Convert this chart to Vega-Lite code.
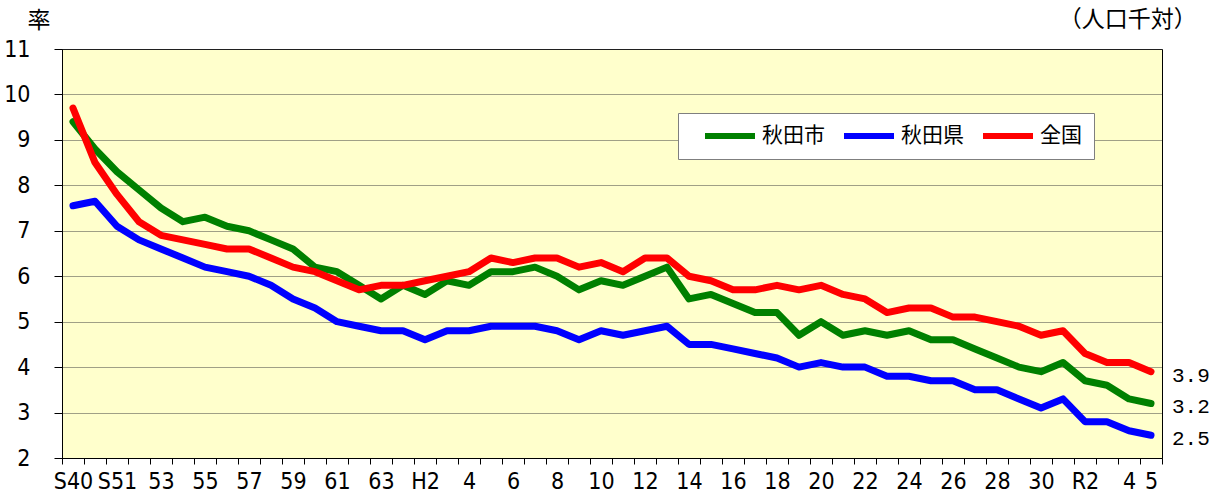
{
  "$schema": "https://vega.github.io/schema/vega-lite/v6.json",
  "width": 1100,
  "height": 409,
  "autosize": "none",
  "padding": {"left": 62, "top": 49, "right": 53, "bottom": 36},
  "background": "#FFFFFF",
  "title": {
    "text": "（人口千対）",
    "anchor": "end",
    "dx": -13,
    "offset": -23,
    "font": "Noto Sans CJK JP",
    "fontSize": 23,
    "fontWeight": "normal",
    "color": "#000000"
  },
  "data": {
    "values": [
      {"code": "S40", "秋田市": 9.4, "秋田県": 7.55, "全国": 9.7},
      {"code": "S50", "秋田市": 8.8, "秋田県": 7.65, "全国": 8.5},
      {"code": "S51", "秋田市": 8.3, "秋田県": 7.1, "全国": 7.8},
      {"code": "S52", "秋田市": 7.9, "秋田県": 6.8, "全国": 7.2},
      {"code": "S53", "秋田市": 7.5, "秋田県": 6.6, "全国": 6.9},
      {"code": "S54", "秋田市": 7.2, "秋田県": 6.4, "全国": 6.8},
      {"code": "S55", "秋田市": 7.3, "秋田県": 6.2, "全国": 6.7},
      {"code": "S56", "秋田市": 7.1, "秋田県": 6.1, "全国": 6.6},
      {"code": "S57", "秋田市": 7.0, "秋田県": 6.0, "全国": 6.6},
      {"code": "S58", "秋田市": 6.8, "秋田県": 5.8, "全国": 6.4},
      {"code": "S59", "秋田市": 6.6, "秋田県": 5.5, "全国": 6.2},
      {"code": "S60", "秋田市": 6.2, "秋田県": 5.3, "全国": 6.1},
      {"code": "S61", "秋田市": 6.1, "秋田県": 5.0, "全国": 5.9},
      {"code": "S62", "秋田市": 5.8, "秋田県": 4.9, "全国": 5.7},
      {"code": "S63", "秋田市": 5.5, "秋田県": 4.8, "全国": 5.8},
      {"code": "H1", "秋田市": 5.8, "秋田県": 4.8, "全国": 5.8},
      {"code": "H2", "秋田市": 5.6, "秋田県": 4.6, "全国": 5.9},
      {"code": "H3", "秋田市": 5.9, "秋田県": 4.8, "全国": 6.0},
      {"code": "H4", "秋田市": 5.8, "秋田県": 4.8, "全国": 6.1},
      {"code": "H5", "秋田市": 6.1, "秋田県": 4.9, "全国": 6.4},
      {"code": "H6", "秋田市": 6.1, "秋田県": 4.9, "全国": 6.3},
      {"code": "H7", "秋田市": 6.2, "秋田県": 4.9, "全国": 6.4},
      {"code": "H8", "秋田市": 6.0, "秋田県": 4.8, "全国": 6.4},
      {"code": "H9", "秋田市": 5.7, "秋田県": 4.6, "全国": 6.2},
      {"code": "H10", "秋田市": 5.9, "秋田県": 4.8, "全国": 6.3},
      {"code": "H11", "秋田市": 5.8, "秋田県": 4.7, "全国": 6.1},
      {"code": "H12", "秋田市": 6.0, "秋田県": 4.8, "全国": 6.4},
      {"code": "H13", "秋田市": 6.2, "秋田県": 4.9, "全国": 6.4},
      {"code": "H14", "秋田市": 5.5, "秋田県": 4.5, "全国": 6.0},
      {"code": "H15", "秋田市": 5.6, "秋田県": 4.5, "全国": 5.9},
      {"code": "H16", "秋田市": 5.4, "秋田県": 4.4, "全国": 5.7},
      {"code": "H17", "秋田市": 5.2, "秋田県": 4.3, "全国": 5.7},
      {"code": "H18", "秋田市": 5.2, "秋田県": 4.2, "全国": 5.8},
      {"code": "H19", "秋田市": 4.7, "秋田県": 4.0, "全国": 5.7},
      {"code": "H20", "秋田市": 5.0, "秋田県": 4.1, "全国": 5.8},
      {"code": "H21", "秋田市": 4.7, "秋田県": 4.0, "全国": 5.6},
      {"code": "H22", "秋田市": 4.8, "秋田県": 4.0, "全国": 5.5},
      {"code": "H23", "秋田市": 4.7, "秋田県": 3.8, "全国": 5.2},
      {"code": "H24", "秋田市": 4.8, "秋田県": 3.8, "全国": 5.3},
      {"code": "H25", "秋田市": 4.6, "秋田県": 3.7, "全国": 5.3},
      {"code": "H26", "秋田市": 4.6, "秋田県": 3.7, "全国": 5.1},
      {"code": "H27", "秋田市": 4.4, "秋田県": 3.5, "全国": 5.1},
      {"code": "H28", "秋田市": 4.2, "秋田県": 3.5, "全国": 5.0},
      {"code": "H29", "秋田市": 4.0, "秋田県": 3.3, "全国": 4.9},
      {"code": "H30", "秋田市": 3.9, "秋田県": 3.1, "全国": 4.7},
      {"code": "R1", "秋田市": 4.1, "秋田県": 3.3, "全国": 4.8},
      {"code": "R2", "秋田市": 3.7, "秋田県": 2.8, "全国": 4.3},
      {"code": "R3", "秋田市": 3.6, "秋田県": 2.8, "全国": 4.1},
      {"code": "R4", "秋田市": 3.3, "秋田県": 2.6, "全国": 4.1},
      {"code": "R5", "秋田市": 3.2, "秋田県": 2.5, "全国": 3.9}
    ]
  },
  "transform": [
    {"fold": ["秋田市", "秋田県", "全国"], "as": ["series", "rate"]}
  ],
  "encoding": {
    "x": {
      "field": "code",
      "type": "ordinal",
      "sort": null,
      "scale": {"paddingInner": 0, "paddingOuter": 0},
      "axis": {
        "title": null,
        "labelAngle": 0,
        "labelOverlap": false,
        "tickBand": "extent",
        "tickSize": 6,
        "tickColor": "#000000",
        "domainColor": "#000000",
        "labelPadding": 6,
        "labelFont": "Liberation Sans Narrow, DejaVu Sans Condensed, Noto Sans CJK JP",
        "labelFontSize": 23,
        "labelColor": "#000000",
        "labelExpr": "test(/^(S40|S51|H2|R2)$/, datum.value) ? datum.value : (test(/^(S53|S55|S57|S59|S61|S63|H4|H6|H8|H10|H12|H14|H16|H18|H20|H22|H24|H26|H28|H30|R4|R5)$/, datum.value) ? substring(datum.value, 1) : '')"
      }
    },
    "y": {
      "field": "rate",
      "type": "quantitative",
      "scale": {"domain": [2, 11], "nice": false, "zero": false},
      "axis": {
        "title": "率",
        "titleAngle": 0,
        "titleX": -35,
        "titleY": -22,
        "titleAlign": "left",
        "titleBaseline": "alphabetic",
        "titleFont": "Noto Sans CJK JP",
        "titleFontSize": 23,
        "titleFontWeight": "normal",
        "titleColor": "#000000",
        "values": [2, 3, 4, 5, 6, 7, 8, 9, 10, 11],
        "grid": true,
        "gridColor": "#404040",
        "gridDash": [1, 1],
        "gridWidth": 1,
        "tickSize": 8,
        "tickColor": "#000000",
        "domainColor": "#000000",
        "labelPadding": 24,
        "labelFont": "Liberation Sans Narrow, DejaVu Sans Condensed, Noto Sans CJK JP",
        "labelFontSize": 23,
        "labelColor": "#000000"
      }
    }
  },
  "layer": [
    {
      "mark": {"type": "line", "strokeWidth": 7, "strokeCap": "round", "strokeJoin": "round"},
      "encoding": {
        "color": {
          "field": "series",
          "type": "nominal",
          "scale": {"domain": ["秋田市", "秋田県", "全国"], "range": ["#008000", "#0000FF", "#FF0000"]},
          "legend": {
            "orient": "none",
            "legendX": 616,
            "legendY": 64,
            "direction": "horizontal",
            "title": null,
            "symbolType": "stroke",
            "symbolSize": 2500,
            "symbolStrokeWidth": 6,
            "labelFont": "Noto Sans CJK JP",
            "labelFontSize": 21,
            "labelColor": "#000000",
            "labelOffset": 4,
            "columnPadding": 4,
            "clipHeight": 22,
            "padding": 12,
            "symbolOffset": 12,
            "fillColor": "#FFFFFF",
            "strokeColor": "#7f7f7f"
          }
        }
      }
    },
    {
      "transform": [{"filter": "datum.code === 'R5'"}],
      "mark": {
        "type": "text",
        "align": "left",
        "baseline": "middle",
        "dx": 21,
        "dy": 4,
        "font": "Liberation Mono, DejaVu Sans Mono",
        "fontSize": 21,
        "color": "#000000"
      },
      "encoding": {
        "text": {"field": "rate", "type": "quantitative", "format": ".1f"}
      }
    }
  ],
  "config": {
    "view": {"fill": "#FFFFCC", "stroke": "#000000", "strokeWidth": 1}
  }
}
